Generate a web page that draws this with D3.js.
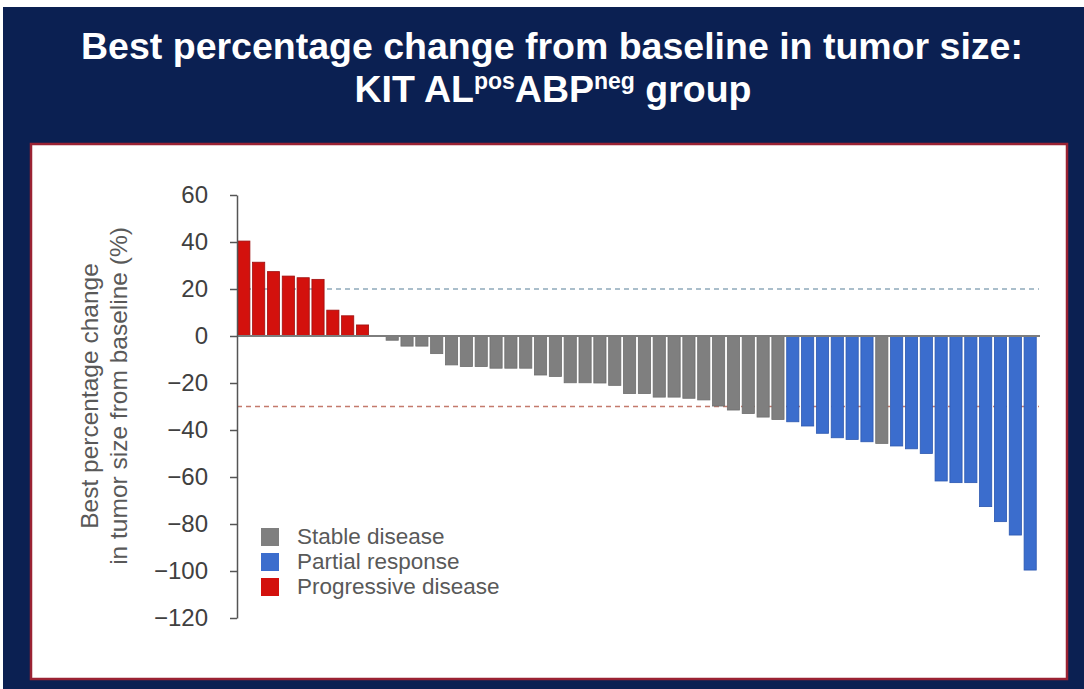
<!DOCTYPE html>
<html>
<head>
<meta charset="utf-8">
<script src="https://cdn.jsdelivr.net/npm/d3@7"></script>
<style>
  html, body { margin: 0; padding: 0; background: #ffffff; }
  svg { display: block; }
</style>
</head>
<body>
<svg id="chart" width="1084" height="689"></svg>
<script>
// Best % change from baseline per patient, sorted (waterfall order)
const patients = d3.range(1, 55).map(i => "P" + i);
const changes = [
  40.4, 31.4, 27.4, 25.5, 24.8, 24.1, 11.0, 8.6, 4.7,
  0, -1.8, -4.3, -4.3, -7.5, -12.3, -13.0, -13.0, -13.7, -13.7, -13.7,
  -16.6, -17.2, -19.9, -19.9, -20.0, -21.0, -24.5, -24.5, -26.0, -26.0,
  -26.5, -27.2, -29.8, -31.5, -33.0, -34.5, -35.5,
  -36.5, -38.3, -41.4, -43.3, -44.0, -45.0, -45.7, -46.8, -48.0, -50.0,
  -61.7, -62.4, -62.4, -72.6, -79.0, -84.7, -99.6
];
// Best overall response per patient: SD / PR / PD
const responses = [
  "PD","PD","PD","PD","PD","PD","PD","PD","PD",
  "SD","SD","SD","SD","SD","SD","SD","SD","SD","SD","SD",
  "SD","SD","SD","SD","SD","SD","SD","SD","SD","SD",
  "SD","SD","SD","SD","SD","SD","SD",
  "PR","PR","PR","PR","PR","PR","SD","PR","PR","PR",
  "PR","PR","PR","PR","PR","PR","PR"
];
const legendKeys = ["SD", "PR", "PD"];
const legendLabels = ["Stable disease", "Partial response", "Progressive disease"];
const yTicks = [60, 40, 20, 0, -20, -40, -60, -80, -100, -120];
const thresholds = [20, -30];

const colors = { SD: "#7f7f7f", PR: "#3b6dcd", PD: "#d3110d" };
const strokes = { SD: "#6e6e6e", PR: "#2c58b0", PD: "#9e1010" };

const svg = d3.select("#chart");
const W = 1084, H = 689;
const FONT = "Liberation Sans, Arial, sans-serif";

// slide background
svg.append("rect").attr("x", 3).attr("y", 7).attr("width", W - 3).attr("height", H - 7)
  .attr("fill", "#0b2052");

// title
svg.append("text")
  .attr("x", 552).attr("y", 59)
  .attr("text-anchor", "middle")
  .attr("fill", "#ffffff")
  .attr("font-family", FONT)
  .attr("font-weight", "bold")
  .attr("font-size", 37.5)
  .text("Best percentage change from baseline in tumor size:");

const t2 = svg.append("text")
  .attr("x", 553).attr("y", 102)
  .attr("text-anchor", "middle")
  .attr("fill", "#ffffff")
  .attr("font-family", FONT)
  .attr("font-weight", "bold")
  .attr("font-size", 37.5);
t2.append("tspan").text("KIT AL");
t2.append("tspan").attr("font-size", 23).attr("dy", -13).text("pos");
t2.append("tspan").attr("dy", 13).text("ABP");
t2.append("tspan").attr("font-size", 23).attr("dy", -13).text("neg");
t2.append("tspan").attr("dy", 13).text(" group");

// white chart panel with red frame
svg.append("rect")
  .attr("x", 31).attr("y", 144).attr("width", 1036).attr("height", 535)
  .attr("fill", "#ffffff")
  .attr("stroke", "#9a2233").attr("stroke-width", 2.5);

// scales
const x = d3.scaleBand().domain(patients).range([237, 1037])
  .paddingInner(0.18).paddingOuter(0.05);
const y = d3.scaleLinear().domain([-120, 60]).range([618, 195]);

const plot = svg.append("g");

// reference lines at +20% and -30%
plot.selectAll("line.thr").data(thresholds).enter().append("line")
  .attr("class", "thr")
  .attr("x1", 237).attr("x2", 1039)
  .attr("y1", d => y(d)).attr("y2", d => y(d))
  .attr("stroke", d => d > 0 ? "#8ea9ba" : "#c47a6c")
  .attr("stroke-width", 1.6)
  .attr("stroke-dasharray", "5,4");

// bars
plot.selectAll("rect.bar").data(changes).enter().append("rect")
  .attr("class", "bar")
  .attr("x", (d, i) => x(patients[i]))
  .attr("width", x.bandwidth())
  .attr("y", d => y(Math.max(0, d)))
  .attr("height", d => Math.abs(y(d) - y(0)))
  .attr("fill", (d, i) => colors[responses[i]])
  .attr("stroke", (d, i) => strokes[responses[i]])
  .attr("stroke-width", 0.8);

// zero baseline
plot.append("line")
  .attr("x1", 237).attr("x2", 1040)
  .attr("y1", y(0)).attr("y2", y(0))
  .attr("stroke", "#7d7d7d").attr("stroke-width", 2);

// y axis
const yAxis = d3.axisLeft(y).tickValues(yTicks).tickSize(7).tickSizeOuter(0).tickPadding(22);
const ga = svg.append("g").attr("transform", "translate(237,0)").call(yAxis);
ga.select(".domain").attr("stroke", "#555555").attr("stroke-width", 1.5);
ga.selectAll(".tick line").attr("stroke", "#555555").attr("stroke-width", 1.5);
ga.selectAll(".tick text")
  .attr("fill", "#404040")
  .attr("font-family", FONT)
  .attr("font-size", 24);

// y axis title (two lines)
const ylab = svg.append("text")
  .attr("transform", "translate(98,396) rotate(-90)")
  .attr("text-anchor", "middle")
  .attr("fill", "#595959")
  .attr("font-family", FONT)
  .attr("font-size", 24.5);
ylab.append("tspan").attr("x", 0).attr("dy", 0).text("Best percentage change");
ylab.append("tspan").attr("x", 0).attr("dy", 29).text("in tumor size from baseline (%)");

// legend
const lg = svg.append("g").attr("transform", "translate(261,528)");
const rows = lg.selectAll("g").data(legendKeys).enter().append("g")
  .attr("transform", (d, i) => `translate(0,${i * 25})`);
rows.append("rect").attr("width", 18).attr("height", 18)
  .attr("fill", d => colors[d]);
rows.append("text")
  .attr("x", 36).attr("y", 16)
  .attr("fill", "#595959")
  .attr("font-family", FONT)
  .attr("font-size", 22.5)
  .text((d, i) => legendLabels[i]);
</script>
</body>
</html>
